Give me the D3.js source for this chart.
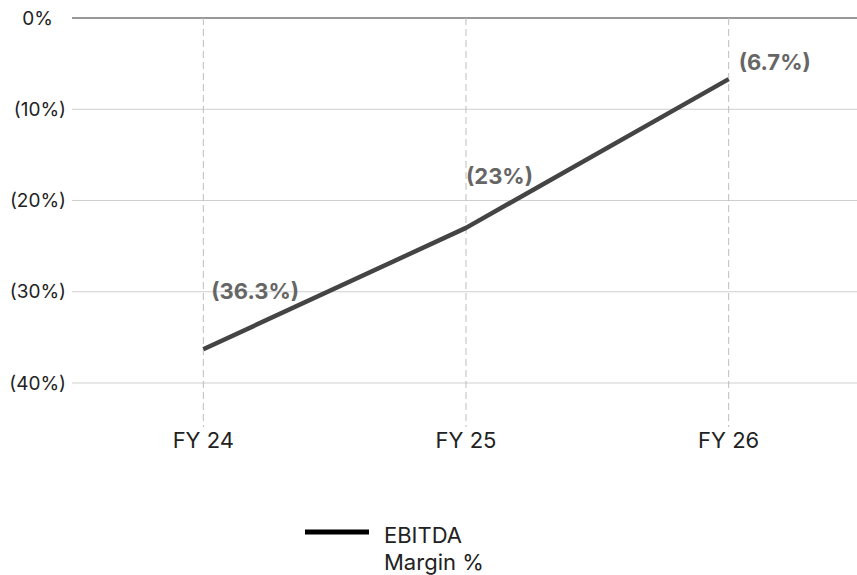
<!DOCTYPE html>
<html>
<head>
<meta charset="utf-8">
<script src="https://cdn.jsdelivr.net/npm/d3@7"></script>
<style>
  html, body { margin: 0; padding: 0; background: #fff; }
  svg { display: block; font-family: Inter, "Noto Sans", sans-serif; }
</style>
</head>
<body>
<svg id="chart" width="857" height="575"></svg>
<script>
// EBITDA margin by fiscal year (negative = loss)
const categories = ["FY 24", "FY 25", "FY 26"];
const marginValues = [-36.3, -23, -6.7];
const yTicks = [0, -10, -20, -30, -40];
const seriesName = ["EBITDA", "Margin %"];

// label nudges relative to each point (dx, dy)
const labelOffsets = [[8, -58], [0, -52], [10, -17]];

const svg = d3.select("#chart");
const plot = { left: 72, right: 860, top: 18, bottom: 383 };

const x = d3.scalePoint()
  .domain(categories)
  .range([plot.left, plot.right])
  .padding(0.5);

const y = d3.scaleLinear()
  .domain([0, -40])
  .range([plot.top, plot.bottom]);

const fmtPct = v => v === 0 ? "0%" : `(${Math.abs(v)}%)`;

// horizontal grid
svg.append("g")
  .selectAll("line")
  .data(yTicks)
  .join("line")
  .attr("x1", plot.left)
  .attr("x2", 857)
  .attr("y1", d => y(d))
  .attr("y2", d => y(d))
  .attr("stroke", d => d === 0 ? "#333" : "#cfcfcf")
  .attr("stroke-width", d => d === 0 ? 1.2 : 1);

// vertical dashed guides
svg.append("g")
  .selectAll("line")
  .data(categories)
  .join("line")
  .attr("x1", d => x(d))
  .attr("x2", d => x(d))
  .attr("y1", plot.top)
  .attr("y2", 427)
  .attr("stroke", "#bdbdbd")
  .attr("stroke-width", 1)
  .attr("stroke-dasharray", "7,4");

// y axis labels
svg.append("g")
  .selectAll("text")
  .data(yTicks)
  .join("text")
  .attr("x", d => d === 0 ? 53 : 66)
  .attr("y", d => y(d))
  .attr("dy", "0.35em")
  .attr("text-anchor", "end")
  .attr("font-size", 19)
  .attr("fill", "#222")
  .text(fmtPct);

// x axis labels
svg.append("g")
  .selectAll("text")
  .data(categories)
  .join("text")
  .attr("x", d => x(d))
  .attr("y", 448)
  .attr("text-anchor", "middle")
  .attr("font-size", 22)
  .attr("fill", "#222")
  .text(d => d);

// line
const points = categories.map((c, i) => ({ c, v: marginValues[i] }));
const line = d3.line().x(d => x(d.c)).y(d => y(d.v));
svg.append("path")
  .datum(points)
  .attr("d", line)
  .attr("fill", "none")
  .attr("stroke", "#444")
  .attr("stroke-width", 4.5)
  .attr("stroke-linejoin", "round");

// value labels
svg.append("g")
  .selectAll("text")
  .data(points)
  .join("text")
  .attr("x", (d, i) => x(d.c) + labelOffsets[i][0])
  .attr("y", (d, i) => y(d.v) + labelOffsets[i][1])
  .attr("dy", "0.35em")
  .attr("font-size", 22)
  .attr("font-weight", 700)
  .attr("fill", "#666")
  .text(d => fmtPct(d.v));

// legend
const legend = svg.append("g");
legend.append("line")
  .attr("x1", 305).attr("x2", 369)
  .attr("y1", 532).attr("y2", 532)
  .attr("stroke", "#000")
  .attr("stroke-width", 5);
legend.append("text")
  .attr("x", 384)
  .attr("y", 543)
  .attr("font-size", 22)
  .attr("fill", "#222")
  .selectAll("tspan")
  .data(seriesName)
  .join("tspan")
  .attr("x", 384)
  .attr("dy", (d, i) => i === 0 ? 0 : 27)
  .text(d => d);
</script>
</body>
</html>
